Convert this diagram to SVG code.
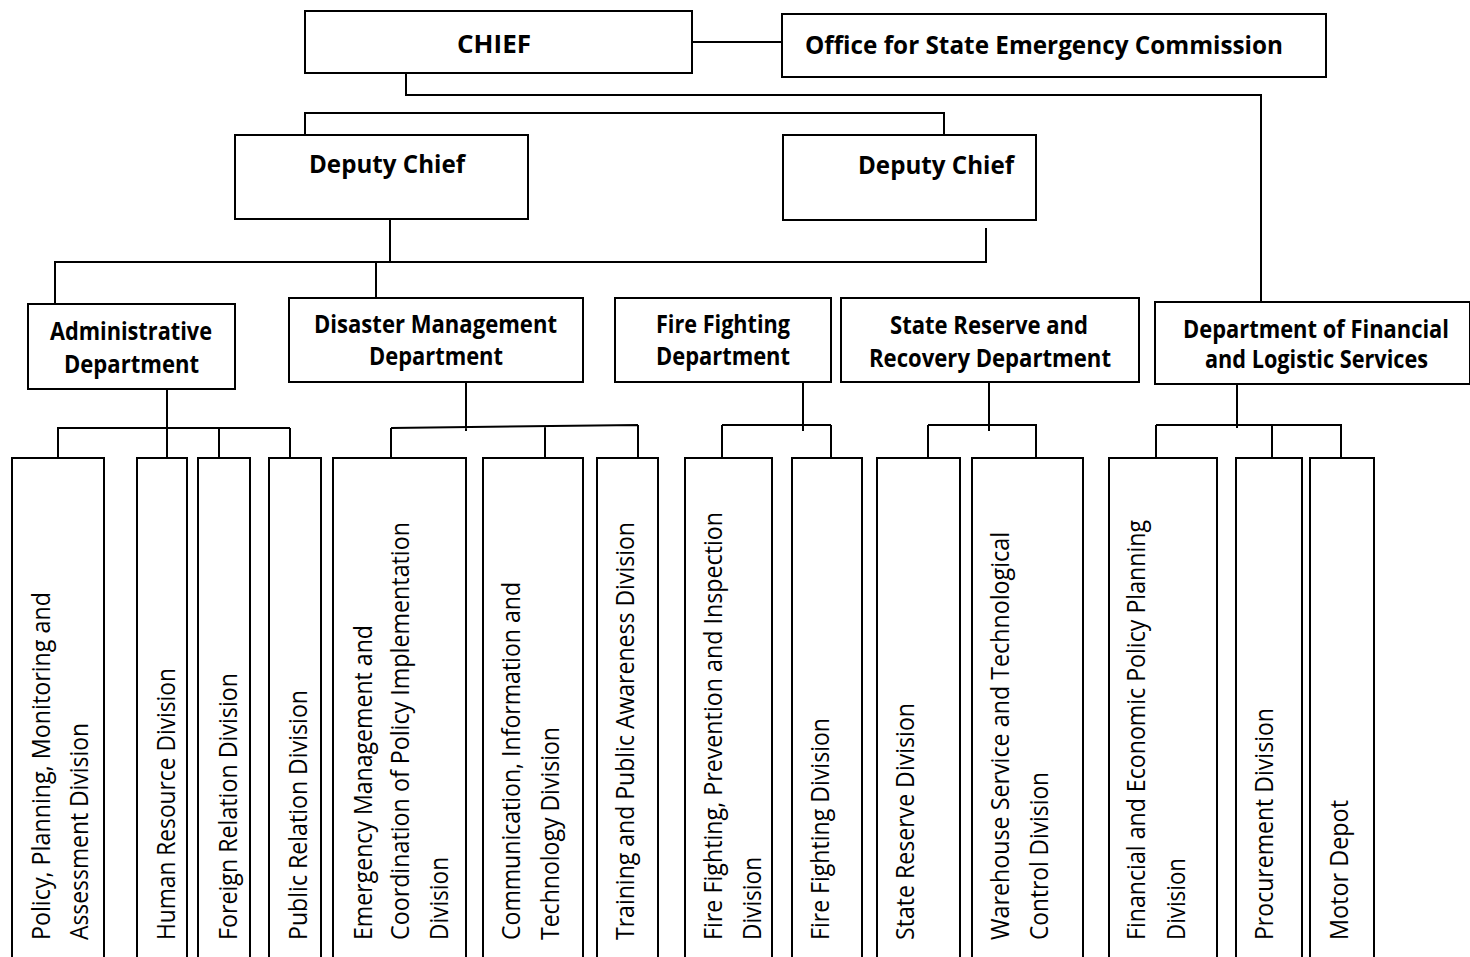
<svg xmlns="http://www.w3.org/2000/svg" width="1470" height="957" viewBox="0 0 1470 957">
<style>
.box{fill:#fff;stroke:#000;stroke-width:2}
.cn{fill:none;stroke:#000;stroke-width:2}
.h{font-family:"Open Sans","Noto Sans",sans-serif;font-weight:bold;font-size:24.5px;fill:#000;text-anchor:middle}
.v{font-family:"Open Sans","Noto Sans",sans-serif;font-size:25px;fill:#000}
</style>
<rect width="1470" height="957" fill="#fff"/>
<g id="connectors">
<path class="cn" d="M692,42H782"/>
<path class="cn" d="M406,73V95H1261V302"/>
<path class="cn" d="M305,135V113H944V135"/>
<path class="cn" d="M390,219V262M55,304V262H986V228M376,262V298"/>
<path class="cn" d="M167,378V428M57,428H290M58,428V458M167,428V458M219,428V458M290,428V458"/>
<path class="cn" d="M466,376V431M391,428L638,425M391,428V464M545,426V458M638,425V458"/>
<path class="cn" d="M803,376V431M722,425H831M722,425V458M831,425V458"/>
<path class="cn" d="M989,376V431M928,425H1037M928,425V458M1036,425V458"/>
<path class="cn" d="M1237,374V428M1156,425H1342M1156,425V458M1272,425V458M1341,425V458"/>
</g>
<g id="chief"><rect class="box" x="305" y="11" width="387" height="62"/><text class="h" x="494" y="53" textLength="74" lengthAdjust="spacingAndGlyphs">CHIEF</text></g>
<g id="office"><rect class="box" x="782" y="14" width="544" height="63"/><text class="h" x="1044" y="54" textLength="478" lengthAdjust="spacingAndGlyphs">Office for State Emergency Commission</text></g>
<g id="deputy1"><rect class="box" x="235" y="135" width="293" height="84"/><text class="h" x="387" y="173" textLength="156" lengthAdjust="spacingAndGlyphs">Deputy Chief</text></g>
<g id="deputy2"><rect class="box" x="783" y="135" width="253" height="85"/><text class="h" x="936" y="174" textLength="156" lengthAdjust="spacingAndGlyphs">Deputy Chief</text></g>
<g id="admin"><rect class="box" x="28" y="304" width="207" height="85"/><text class="h" x="131" y="340" textLength="162" lengthAdjust="spacingAndGlyphs">Administrative</text><text class="h" x="131.5" y="373" textLength="135" lengthAdjust="spacingAndGlyphs">Department</text></g>
<g id="disaster"><rect class="box" x="289" y="298" width="294" height="84"/><text class="h" x="435.5" y="333" textLength="243" lengthAdjust="spacingAndGlyphs">Disaster Management</text><text class="h" x="436" y="365" textLength="134" lengthAdjust="spacingAndGlyphs">Department</text></g>
<g id="fire"><rect class="box" x="615" y="298" width="216" height="84"/><text class="h" x="723" y="333" textLength="134" lengthAdjust="spacingAndGlyphs">Fire Fighting</text><text class="h" x="723" y="365" textLength="134" lengthAdjust="spacingAndGlyphs">Department</text></g>
<g id="reserve"><rect class="box" x="841" y="298" width="298" height="84"/><text class="h" x="989" y="334" textLength="198" lengthAdjust="spacingAndGlyphs">State Reserve and</text><text class="h" x="990" y="367" textLength="242" lengthAdjust="spacingAndGlyphs">Recovery Department</text></g>
<g id="financial"><rect class="box" x="1155" y="302" width="315" height="82"/><text class="h" x="1316" y="338" textLength="266" lengthAdjust="spacingAndGlyphs">Department of Financial</text><text class="h" x="1316.5" y="368" textLength="223" lengthAdjust="spacingAndGlyphs">and Logistic Services</text></g>
<g id="d1"><rect class="box" x="12" y="458" width="92" height="520"/><text class="v" transform="translate(50,940) rotate(-90)" textLength="348" lengthAdjust="spacingAndGlyphs">Policy, Planning, Monitoring and</text><text class="v" transform="translate(88,940) rotate(-90)" textLength="217" lengthAdjust="spacingAndGlyphs">Assessment Division</text></g>
<g id="d2"><rect class="box" x="137" y="458" width="50" height="520"/><text class="v" transform="translate(175,940) rotate(-90)" textLength="272" lengthAdjust="spacingAndGlyphs">Human Resource Division</text></g>
<g id="d3"><rect class="box" x="198" y="458" width="52" height="520"/><text class="v" transform="translate(237,940) rotate(-90)" textLength="267" lengthAdjust="spacingAndGlyphs">Foreign Relation Division</text></g>
<g id="d4"><rect class="box" x="269" y="458" width="52" height="520"/><text class="v" transform="translate(307,940) rotate(-90)" textLength="250" lengthAdjust="spacingAndGlyphs">Public Relation Division</text></g>
<g id="d5"><rect class="box" x="333" y="458" width="133" height="520"/><text class="v" transform="translate(372,940) rotate(-90)" textLength="315" lengthAdjust="spacingAndGlyphs">Emergency Management and</text><text class="v" transform="translate(409,940) rotate(-90)" textLength="418" lengthAdjust="spacingAndGlyphs">Coordination of Policy Implementation</text><text class="v" transform="translate(448,940) rotate(-90)" textLength="83" lengthAdjust="spacingAndGlyphs">Division</text></g>
<g id="d6"><rect class="box" x="483" y="458" width="100" height="520"/><text class="v" transform="translate(520,940) rotate(-90)" textLength="358" lengthAdjust="spacingAndGlyphs">Communication, Information and</text><text class="v" transform="translate(559,940) rotate(-90)" textLength="213" lengthAdjust="spacingAndGlyphs">Technology Division</text></g>
<g id="d7"><rect class="box" x="597" y="458" width="61" height="520"/><text class="v" transform="translate(634,940) rotate(-90)" textLength="418" lengthAdjust="spacingAndGlyphs">Training and Public Awareness Division</text></g>
<g id="d8"><rect class="box" x="685" y="458" width="87" height="520"/><text class="v" transform="translate(722,940) rotate(-90)" textLength="428" lengthAdjust="spacingAndGlyphs">Fire Fighting, Prevention and Inspection</text><text class="v" transform="translate(761,940) rotate(-90)" textLength="83" lengthAdjust="spacingAndGlyphs">Division</text></g>
<g id="d9"><rect class="box" x="792" y="458" width="70" height="520"/><text class="v" transform="translate(829,940) rotate(-90)" textLength="222" lengthAdjust="spacingAndGlyphs">Fire Fighting Division</text></g>
<g id="d10"><rect class="box" x="877" y="458" width="83" height="520"/><text class="v" transform="translate(914,940) rotate(-90)" textLength="237" lengthAdjust="spacingAndGlyphs">State Reserve Division</text></g>
<g id="d11"><rect class="box" x="972" y="458" width="111" height="520"/><text class="v" transform="translate(1009,940) rotate(-90)" textLength="408" lengthAdjust="spacingAndGlyphs">Warehouse Service and Technological</text><text class="v" transform="translate(1048,940) rotate(-90)" textLength="168" lengthAdjust="spacingAndGlyphs">Control Division</text></g>
<g id="d12"><rect class="box" x="1109" y="458" width="108" height="520"/><text class="v" transform="translate(1145,940) rotate(-90)" textLength="420" lengthAdjust="spacingAndGlyphs">Financial and Economic Policy Planning</text><text class="v" transform="translate(1185,940) rotate(-90)" textLength="82" lengthAdjust="spacingAndGlyphs">Division</text></g>
<g id="d13"><rect class="box" x="1236" y="458" width="66" height="520"/><text class="v" transform="translate(1273,940) rotate(-90)" textLength="232" lengthAdjust="spacingAndGlyphs">Procurement Division</text></g>
<g id="d14"><rect class="box" x="1310" y="458" width="64" height="520"/><text class="v" transform="translate(1348,940) rotate(-90)" textLength="140" lengthAdjust="spacingAndGlyphs">Motor Depot</text></g>
</svg>
